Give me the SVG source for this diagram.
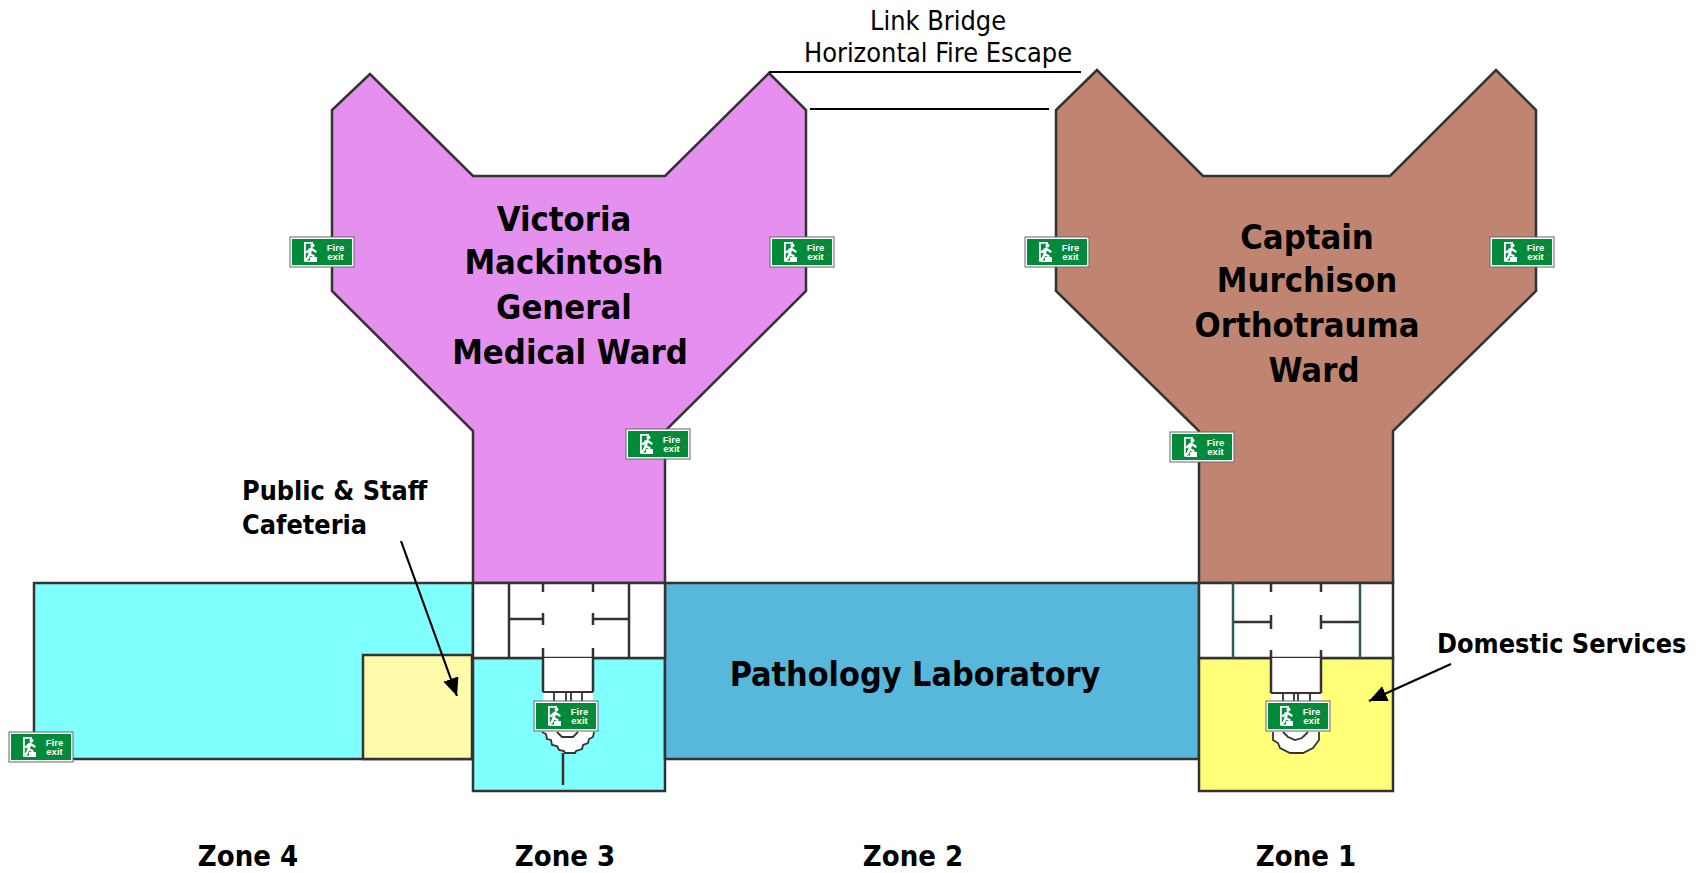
<svg xmlns="http://www.w3.org/2000/svg" width="1702" height="873" viewBox="0 0 1702 873">
<style>
text{font-family:"DejaVu Sans Condensed","DejaVu Sans",sans-serif;fill:#000}
.big{font-size:34.300px;font-weight:bold;text-anchor:middle}
.path{font-size:33.800px;font-weight:bold;text-anchor:middle}
.zone{font-size:29px;font-weight:bold;text-anchor:middle}
.lab{font-size:26.800px;font-weight:bold}
.thin{font-size:26.900px;text-anchor:middle}
.room{stroke:#333;stroke-width:2.5;stroke-linejoin:miter}
.wall{stroke:#333;stroke-width:2.5;fill:none}
.arc{stroke:#333;stroke-width:1.800;fill:none}
.teal{stroke:#2c5a5a;stroke-width:2.5;fill:none}
.conn{stroke:#000;stroke-width:2.2;fill:none}
.sb{fill:#fff;stroke:#666;stroke-width:1}
.sg{fill:#008a3a}
.st{font-family:"Liberation Sans",Arial,sans-serif;font-size:9.500px;font-weight:bold;fill:#fff;text-anchor:middle}
.mw{fill:#fff}
.ml{stroke:#fff;stroke-width:2.400;fill:none;stroke-linecap:round;stroke-linejoin:round}
</style>
<defs>
<marker id="ah" markerUnits="userSpaceOnUse" markerWidth="20" markerHeight="20" refX="18" refY="8" orient="auto"><path d="M0 0L18 8L0 16Z" fill="#000"/></marker>
<g id="man"><path class="mw" d="M14 5h9v1.800h-7.200v17.200h-1.800z"/><path class="mw" d="M20 20h7v5h-11v-1.500h4z"/><circle class="mw" cx="22.500" cy="8.500" r="2"/><path class="ml" d="M21.500 11.500L19.500 17M21.500 12L25.500 14.500M20.500 12L17 15M19.500 17L23.500 19M19.500 17L18 21L15 23.500"/></g>
</defs>
<g id="ward-victoria"><path class="room" fill="#e590ee" d="M370 74L332 110V291L473 431V583H665V431L806 291V110L769 73L665 176H473L370 74Z"/><text class="big" x="564" y="231">Victoria</text><text class="big" x="564" y="274">Mackintosh</text><text class="big" x="564" y="319">General</text><text class="big" x="570" y="364">Medical Ward</text></g>
<g id="ward-captain"><path class="room" fill="#c08570" d="M1097 70L1056 110V291L1199 431V583H1393V431L1536 291V110L1496 70L1390 176H1203L1097 70Z"/><text class="big" x="1307" y="249">Captain</text><text class="big" x="1307" y="292">Murchison</text><text class="big" x="1307" y="337">Orthotrauma</text><text class="big" x="1314" y="382">Ward</text></g>
<g id="zone4-area"><rect class="room" fill="#80ffff" x="34" y="583" width="439" height="176"/></g>
<g id="cafeteria"><rect class="room" fill="#fffbaa" x="363" y="655" width="109" height="104"/><text class="lab" x="242" y="500">Public &amp; Staff</text><text class="lab" x="242" y="534">Cafeteria</text></g>
<g id="zone3-block"><rect class="room" fill="#80ffff" x="473" y="658" width="192" height="133"/></g>
<g id="pathology"><rect class="room" fill="#58b8dc" x="665" y="583" width="534" height="176"/><text class="path" x="915" y="685.500">Pathology Laboratory</text></g>
<g id="domestic"><rect class="room" fill="#ffff78" x="1199" y="658" width="194" height="133"/><text class="lab" x="1437" y="653">Domestic Services</text></g>
<g id="core-zone3"><rect class="room" fill="#fff" x="473" y="583" width="192" height="75"/>
<path fill="#fff" d="M543 658V732L546 734L547 739L551 740L552 745L557 746L559 750L564 751L565 753H575L576 751L582 749L583 745L588 743L589 739L593 737V658Z"/>
<path class="wall" d="M509 583V658M629 583V658M509 619H543M593 619H629M543 583V592M593 583V592M543 613V625M593 613V625M543 648V692M593 648V692M563 753V785"/>
<path class="arc" d="M543 692H593M554 692V702M566 692V702M571 692V702M582 692V702M542 732L546 734L547 739L551 740L552 745L557 746L559 750L564 751L565 753H575L576 751L582 749L583 745L588 743L589 739L593 737L594 732M557 732L562 737H573L578 732"/></g>
<g id="core-zone1"><rect class="room" fill="#fff" x="1199" y="583" width="194" height="75"/>
<path fill="#fff" d="M1271 658V732L1273 740L1278 743L1280 748L1290 753H1303L1313 748L1319 740L1321 732V658Z"/>
<path class="wall" d="M1271 583V592M1321 583V592M1233 622H1271M1321 622H1360M1271 615V629M1321 615V629M1271 650V693M1321 650V693"/>
<path class="arc" d="M1271 693H1321M1283 693V702M1294 693V702M1298 693V702M1310 693V702M1273 732V740L1278 743L1280 748L1290 753H1303L1313 748L1319 740V732M1283 732L1288 737L1295 740L1302 738L1308 732"/>
<path class="teal" d="M1233 583V658M1360 583V658"/></g>
<g id="connectors"><path class="conn" d="M769 72H1081M810 109H1049"/><path class="conn" marker-end="url(#ah)" d="M401 541L457 696"/><path class="conn" marker-end="url(#ah)" d="M1451 664L1369 701"/></g>
<g id="sign1" transform="translate(290 237)"><rect class="sb" width="64" height="30"/><rect class="sg" x="2" y="2" width="60" height="26"/><use href="#man"/><text class="st" x="45.500" y="13.500">Fire</text><text class="st" x="45.500" y="23">exit</text></g>
<g id="sign2" transform="translate(770 237)"><rect class="sb" width="64" height="30"/><rect class="sg" x="2" y="2" width="60" height="26"/><use href="#man"/><text class="st" x="45.500" y="13.500">Fire</text><text class="st" x="45.500" y="23">exit</text></g>
<g id="sign3" transform="translate(1025 237)"><rect class="sb" width="64" height="30"/><rect class="sg" x="2" y="2" width="60" height="26"/><use href="#man"/><text class="st" x="45.500" y="13.500">Fire</text><text class="st" x="45.500" y="23">exit</text></g>
<g id="sign4" transform="translate(1490 237)"><rect class="sb" width="64" height="30"/><rect class="sg" x="2" y="2" width="60" height="26"/><use href="#man"/><text class="st" x="45.500" y="13.500">Fire</text><text class="st" x="45.500" y="23">exit</text></g>
<g id="sign5" transform="translate(626 429)"><rect class="sb" width="64" height="30"/><rect class="sg" x="2" y="2" width="60" height="26"/><use href="#man"/><text class="st" x="45.500" y="13.500">Fire</text><text class="st" x="45.500" y="23">exit</text></g>
<g id="sign6" transform="translate(1170 432)"><rect class="sb" width="64" height="30"/><rect class="sg" x="2" y="2" width="60" height="26"/><use href="#man"/><text class="st" x="45.500" y="13.500">Fire</text><text class="st" x="45.500" y="23">exit</text></g>
<g id="sign7" transform="translate(534 701)"><rect class="sb" width="64" height="30"/><rect class="sg" x="2" y="2" width="60" height="26"/><use href="#man"/><text class="st" x="45.500" y="13.500">Fire</text><text class="st" x="45.500" y="23">exit</text></g>
<g id="sign8" transform="translate(1266 701)"><rect class="sb" width="64" height="30"/><rect class="sg" x="2" y="2" width="60" height="26"/><use href="#man"/><text class="st" x="45.500" y="13.500">Fire</text><text class="st" x="45.500" y="23">exit</text></g>
<g id="sign9" transform="translate(9 732)"><rect class="sb" width="64" height="30"/><rect class="sg" x="2" y="2" width="60" height="26"/><use href="#man"/><text class="st" x="45.500" y="13.500">Fire</text><text class="st" x="45.500" y="23">exit</text></g>
<g id="bridge-label"><text class="thin" x="938" y="30">Link Bridge</text><text class="thin" x="938" y="62">Horizontal Fire Escape</text></g>
<g id="zones"><text class="zone" x="248" y="866">Zone 4</text><text class="zone" x="565" y="866">Zone 3</text><text class="zone" x="913" y="866">Zone 2</text><text class="zone" x="1306" y="866">Zone 1</text></g>
</svg>
